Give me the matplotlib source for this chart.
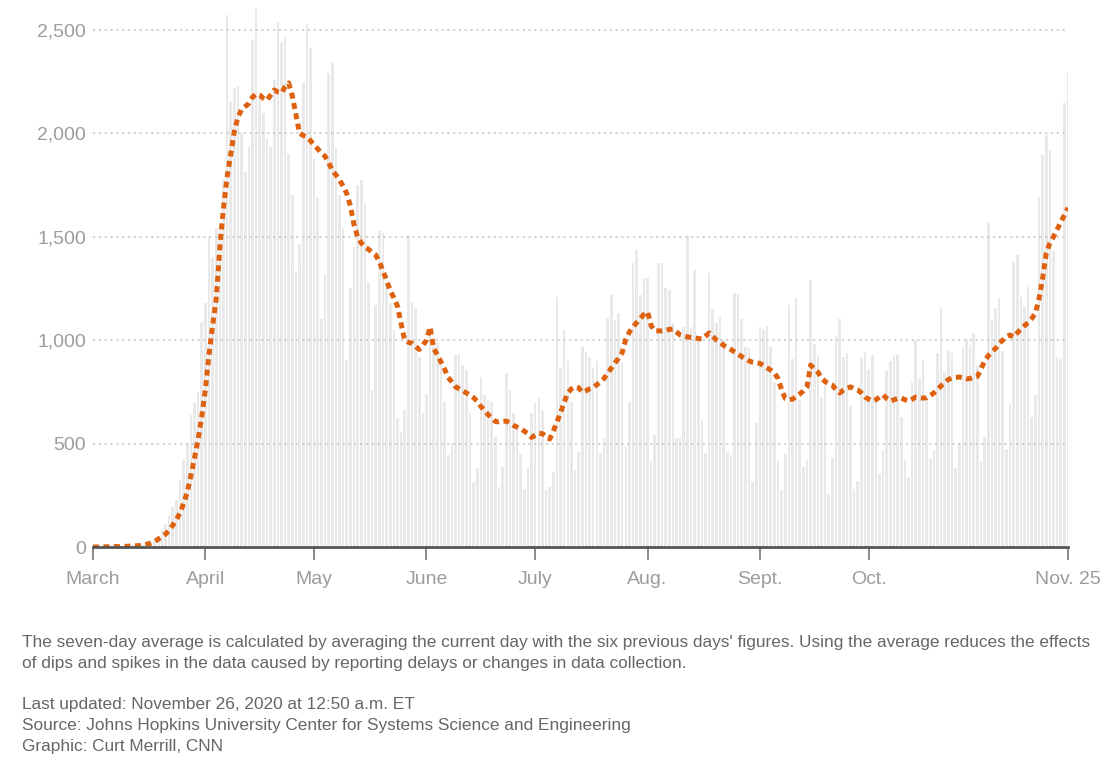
import numpy as np
import pandas as pd
from matplotlib import pyplot as plt

plt.rcParams['font.family'] = ['Liberation Sans', 'DejaVu Sans']

# daily new deaths, March 1 - Nov. 25, 2020 (one row per week, Sunday first)
deaths = [
    1, 5, 1, 4, 1, 2, 3,
    3, 4, 4, 5, 8, 7, 11,
    10, 12, 18, 30, 55, 80, 110,
    150, 193, 227, 324, 420, 503, 638,
    696, 750, 1088, 1180, 1500, 1397, 1542,
    1568, 1775, 2572, 2152, 2218, 2229, 2000,
    1814, 1936, 2452, 2606, 2177, 2098, 1977,
    1936, 2258, 2540, 2442, 2466, 1900, 1702,
    1336, 1467, 2243, 2527, 2414, 1875, 1687,
    1104, 1318, 2294, 2345, 1929, 1700, 1543,
    904, 1250, 1451, 1751, 1775, 1663, 1277,
    760, 1170, 1528, 1518, 1277, 1180, 1050,
    624, 556, 662, 1509, 1185, 1156, 919,
    650, 740, 1049, 1001, 986, 920, 700,
    445, 503, 928, 928, 880, 856, 650,
    314, 382, 822, 735, 711, 700, 532,
    290, 387, 841, 759, 650, 580, 450,
    280, 382, 648, 696, 720, 662, 276,
    290, 363, 1209, 866, 1050, 900, 700,
    372, 460, 967, 943, 919, 866, 900,
    455, 527, 1107, 1219, 1097, 1130, 890,
    484, 700, 1373, 1436, 1219, 1300, 1300,
    416, 542, 1373, 1373, 1252, 1243, 1081,
    527, 527, 1064, 1509, 1064, 1340, 1000,
    614, 455, 1325, 1150, 1083, 1112, 1000,
    460, 445, 1228, 1224, 1102, 967, 960,
    314, 600, 1064, 1049, 1068, 967, 800,
    416, 276, 450, 1170, 909, 1203, 711,
    387, 423, 1291, 983, 930, 720, 820,
    256, 430, 1020, 1102, 919, 940, 680,
    280, 320, 913, 945, 856, 930, 700,
    353, 469, 850, 900, 930, 928, 629,
    421, 339, 798, 1001, 815, 904, 720,
    426, 469, 938, 1156, 846, 951, 938,
    382, 493, 967, 1007, 975, 1035, 880,
    411, 532, 1572, 1098, 1156, 1204, 946,
    474, 696, 1378, 1412, 1209, 1160, 1257,
    629, 735, 1693, 1896, 1992, 1920, 1430,
    920, 910, 2147, 2297,
]

# seven-day average as drawn on the chart
avg7 = [
    0, 0, 0, 1, 1, 1, 2,
    2, 3, 3, 4, 5, 6, 7,
    9, 14, 19, 27, 38, 50, 62,
    80, 105, 132, 165, 210, 265, 345,
    430, 520, 630, 760, 930, 1070, 1200,
    1450, 1640, 1790, 1900, 2010, 2080, 2115,
    2130, 2145, 2175, 2190, 2185, 2170, 2160,
    2185, 2210, 2200, 2195, 2225, 2244, 2180,
    2090, 2000, 1990, 1983, 1965, 1944, 1925,
    1905, 1890, 1860, 1820, 1800, 1775, 1745,
    1710, 1650, 1560, 1500, 1470, 1450, 1440,
    1425, 1412, 1380, 1335, 1290, 1240, 1205,
    1165, 1080, 1000, 990, 985, 970, 955,
    975, 1000, 1064, 960, 930, 895, 860,
    820, 798, 775, 765, 755, 745, 735,
    722, 705, 680, 660, 640, 625, 607,
    605, 608, 609, 600, 588, 580, 572,
    560, 548, 530, 540, 550, 548, 535,
    522, 560, 605, 650, 700, 745, 765,
    775, 770, 748, 755, 765, 772, 785,
    798, 815, 840, 865, 890, 912, 940,
    1005, 1040, 1064, 1085, 1105, 1125, 1137,
    1070, 1045, 1045, 1045, 1048, 1052, 1054,
    1040, 1025, 1020, 1016, 1013, 1011, 1008,
    1006, 1020, 1035, 1018, 1001, 990, 975,
    965, 955, 943, 932, 920, 910, 900,
    893, 890, 888, 877, 866, 855, 841,
    815, 760, 718, 712, 715, 728, 740,
    755, 775, 880, 860, 846, 815, 800,
    790, 783, 760, 745, 758, 768, 774,
    765, 759, 745, 725, 715, 706, 712,
    725, 735, 718, 706, 712, 718, 721,
    712, 706, 715, 725, 722, 720, 722,
    732, 745, 760, 780, 795, 810, 817,
    820, 822, 818, 813, 815, 820, 825,
    860, 900, 925, 943, 960, 985, 1000,
    1018, 1025, 1015, 1035, 1054, 1070, 1085,
    1105, 1130, 1200, 1300, 1420, 1470, 1500,
    1535, 1570, 1605, 1640,
]

tick_dates = ['2020-03-01', '2020-04-01', '2020-05-01', '2020-06-01', '2020-07-01',
              '2020-08-01', '2020-09-01', '2020-10-01', '2020-11-25']
tick_labels = ['March', 'April', 'May', 'June', 'July', 'Aug.', 'Sept.', 'Oct.', 'Nov. 25']
y_ticks = [0, 500, 1000, 1500, 2000, 2500]

dates = pd.date_range('2020-03-01', periods=len(deaths), freq='D')

fig = plt.figure(figsize=(11.1, 7.73), dpi=100)
ax = fig.add_axes([93 / 1110, (773 - 547) / 773, 975 / 1110, 547 / 773])

ax.bar(dates, deaths, width=0.72, color='#e9e9e9', zorder=1)
for v in y_ticks[1:]:
    ax.axhline(v, color='#c8c8c8', lw=1.1, linestyle=(0, (1.5, 2.3)), zorder=2)
ax.plot(dates, avg7, color='#de6110', lw=3.6, linestyle=(0, (1.2, 0.9)),
        dash_capstyle='butt', zorder=3)

ax.set_xlim(dates[0], dates[-1])
ax.set_ylim(0, 2645)

ax.set_yticks(y_ticks)
ax.set_yticklabels([f'{v:,}' for v in y_ticks])
ax.set_xticks(pd.to_datetime(tick_dates))
ax.set_xticklabels(tick_labels)
ax.tick_params(axis='y', length=0, pad=5, labelsize=14, labelcolor='#9a9ca0')
ax.tick_params(axis='x', length=9, width=1.4, color='#8a8a8a', pad=8,
               labelsize=14, labelcolor='#9a9ca0')
# the two end ticks are darker
for i in (0, -1):
    ax.xaxis.get_major_ticks()[i].tick1line.set_color('#444444')

for s in ['top', 'right', 'left']:
    ax.spines[s].set_visible(False)
ax.spines['bottom'].set_color('#555555')
ax.spines['bottom'].set_linewidth(2)
ax.spines['bottom'].set_zorder(4)

note = ("The seven-day average is calculated by averaging the current day with the six previous days' figures. "
        "Using the average reduces the effects\nof dips and spikes in the data caused by reporting delays "
        "or changes in data collection.")
fig.text(22 / 1110, 1 - 635 / 773, note, fontsize=12.45, color='#666666',
         va='top', linespacing=1.5)
credits = ("Last updated: November 26, 2020 at 12:50 a.m. ET\n"
           "Source: Johns Hopkins University Center for Systems Science and Engineering\n"
           "Graphic: Curt Merrill, CNN")
fig.text(22 / 1110, 1 - 697 / 773, credits, fontsize=12.45, color='#666666',
         va='top', linespacing=1.5)

fig.savefig('out.png', dpi=100, facecolor='white')
